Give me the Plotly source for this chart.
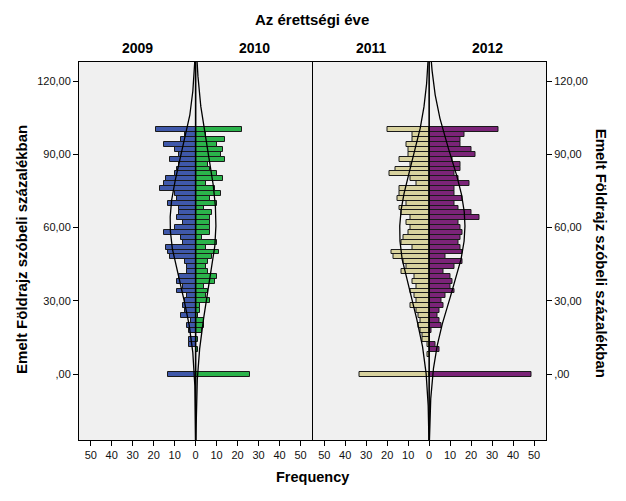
import numpy as np
import plotly.graph_objects as go

# Score bins (Emelt Földrajz szóbeli százalékban), bin width 2
score_bins = list(range(0, 101, 2))

# Frequencies per bin, ascending score (0 .. 100)
freq_2009 = [13, 0, 0, 0, 0, 0, 3, 3, 0, 3,
             4, 2, 7, 5, 6, 5, 4, 9, 6, 9,
             8, 4, 4, 5, 12, 13, 14, 6, 7, 15,
             10, 6, 9, 8, 8, 13, 9, 10, 17, 15,
             14, 10, 9, 8, 12, 8, 10, 15, 7, 5,
             19]
freq_2010 = [26, 0, 0, 0, 0, 1, 0, 1, 0, 3,
             4, 4, 1, 2, 2, 7, 5, 6, 4, 9,
             10, 6, 5, 6, 8, 11, 5, 10, 3, 7,
             7, 7, 7, 8, 4, 10, 7, 12, 9, 5,
             13, 10, 7, 6, 14, 12, 13, 10, 14, 5,
             22]
freq_2011 = [33, 0, 0, 0, 1, 0, 1, 3, 3, 4,
             5, 4, 5, 6, 9, 6, 7, 9, 6, 8,
             7, 13, 11, 12, 17, 18, 8, 13, 12, 10,
             9, 11, 9, 13, 14, 11, 15, 14, 14, 6,
             9, 19, 16, 9, 14, 10, 10, 11, 8, 8,
             20]
freq_2012 = [49, 0, 0, 0, 0, 5, 3, 0, 0, 1,
             6, 5, 4, 5, 7, 6, 8, 12, 10, 11,
             10, 7, 12, 16, 8, 16, 15, 14, 15, 16,
             15, 14, 24, 20, 14, 12, 16, 12, 12, 19,
             14, 12, 15, 15, 11, 22, 20, 15, 15, 17,
             33]

years = ["2009", "2010", "2011", "2012"]
colors = {"2009": "#3F58AA", "2010": "#2BB34B", "2011": "#D8D29E", "2012": "#7B2478"}

y_tick_vals = [0, 30, 60, 90, 120]
y_tick_text = [",00", "30,00", "60,00", "90,00", "120,00"]
x_tick_vals = [-50, -40, -30, -20, -10, 0, 10, 20, 30, 40, 50]
x_tick_text = ["50", "40", "30", "20", "10", "0", "10", "20", "30", "40", "50"]

Y_RANGE = [-27.0, 127.8]
X_RANGE = [-55.6, 55.7]
BIN_W = 2

FONT = "Liberation Sans, Arial, sans-serif"

fig = go.Figure()

def add_side(counts, year, sign, xa, ya):
    ys = [b for b, c in zip(score_bins, counts) if c > 0]
    xs = [sign * c for c in counts if c > 0]
    fig.add_trace(go.Bar(
        y=ys, x=xs, orientation="h", width=BIN_W,
        marker=dict(color=colors[year], line=dict(color="#1a1a1a", width=1)),
        xaxis=xa, yaxis=ya, showlegend=False, hoverinfo="x+y"))

def add_curve(counts, sign, xa, ya):
    b = np.array(score_bins, dtype=float)
    c = np.array(counts, dtype=float)
    n = c.sum()
    mu = (b * c).sum() / n
    sd = np.sqrt(((b - mu) ** 2 * c).sum() / (n - 1))
    yy = np.linspace(Y_RANGE[0], Y_RANGE[1], 500)
    xx = n * BIN_W * np.exp(-0.5 * ((yy - mu) / sd) ** 2) / (sd * np.sqrt(2 * np.pi))
    fig.add_trace(go.Scatter(x=sign * xx, y=yy, mode="lines",
                             line=dict(color="black", width=1.3),
                             xaxis=xa, yaxis=ya, showlegend=False, hoverinfo="skip"))

add_side(freq_2009, "2009", -1, "x", "y")
add_side(freq_2010, "2010", 1, "x", "y")
add_side(freq_2011, "2011", -1, "x2", "y2")
add_side(freq_2012, "2012", 1, "x2", "y2")
add_curve(freq_2009, -1, "x", "y")
add_curve(freq_2010, 1, "x", "y")
add_curve(freq_2011, -1, "x2", "y2")
add_curve(freq_2012, 1, "x2", "y2")

xaxis_common = dict(range=X_RANGE, tickvals=x_tick_vals, ticktext=x_tick_text,
                    ticks="outside", ticklen=5, tickcolor="black",
                    showline=True, linecolor="black", linewidth=1, mirror=True,
                    showgrid=False, zeroline=False, automargin=False,
                    tickfont=dict(family=FONT, size=11, color="#111"))
yaxis_common = dict(range=Y_RANGE, tickvals=y_tick_vals, ticktext=y_tick_text,
                    ticks="outside", ticklen=5, tickcolor="black",
                    showline=True, linecolor="black", linewidth=1,
                    showgrid=False, zeroline=False, automargin=False,
                    tickfont=dict(family=FONT, size=11, color="#111"))

fig.update_layout(
    width=626, height=501,
    margin=dict(l=79, r=80, t=62, b=61),
    paper_bgcolor="white", plot_bgcolor="#F0F0F0",
    barmode="overlay", bargap=0,
    xaxis=dict(domain=[0, 0.5], anchor="y", **xaxis_common),
    xaxis2=dict(domain=[0.5, 1], anchor="y2", **xaxis_common),
    yaxis=dict(anchor="x", side="left", **yaxis_common),
    yaxis2=dict(anchor="x2", side="right", overlaying="y", **yaxis_common),
    shapes=[
        dict(type="line", xref="paper", yref="paper", x0=0.5, x1=0.5, y0=0, y1=1,
             line=dict(color="black", width=1)),
        dict(type="line", xref="x", yref="paper", x0=0, x1=0, y0=0, y1=1,
             line=dict(color="black", width=1.6), layer="above"),
        dict(type="line", xref="x2", yref="paper", x0=0, x1=0, y0=0, y1=1,
             line=dict(color="black", width=1.6), layer="above"),
    ],
)

PW = 466.7
PH = 378.0
def px(xp):
    return (xp - 79) / PW
def py(yp):
    return (440 - yp) / PH

annots = [
    dict(text="<b>Az érettségi éve</b>", x=px(312), y=py(19), size=15),
    dict(text="<b>2009</b>", x=px(137.5), y=py(48), size=14),
    dict(text="<b>2010</b>", x=px(254.5), y=py(48), size=14),
    dict(text="<b>2011</b>", x=px(371), y=py(48), size=14),
    dict(text="<b>2012</b>", x=px(487.5), y=py(48), size=14),
    dict(text="<b>Frequency</b>", x=px(312), y=py(477), size=14.5),
]
for a in annots:
    fig.add_annotation(text=a["text"], x=a["x"], y=a["y"], xref="paper", yref="paper",
                       showarrow=False, xanchor="center", yanchor="middle",
                       font=dict(family=FONT, size=a["size"], color="black"))

fig.add_annotation(text="<b>Emelt Földrajz szóbeli százalékban</b>", x=px(22), y=py(249),
                   xref="paper", yref="paper", showarrow=False, textangle=-90,
                   xanchor="center", yanchor="middle",
                   font=dict(family=FONT, size=15, color="black"))
fig.add_annotation(text="<b>Emelt Földrajz szóbeli százalékban</b>", x=px(602), y=py(253),
                   xref="paper", yref="paper", showarrow=False, textangle=90,
                   xanchor="center", yanchor="middle",
                   font=dict(family=FONT, size=15, color="black"))

fig.write_html("out.html", config={"displayModeBar": False},
               post_script="document.body.style.margin='0';")
